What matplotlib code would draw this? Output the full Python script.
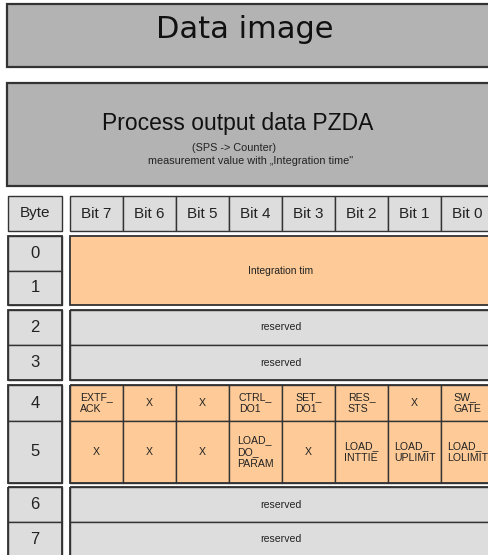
import matplotlib
matplotlib.use("Agg")
import matplotlib.pyplot as plt
from matplotlib.patches import Rectangle

# ---- data ----
title = "Data image"
subtitle_main = "Process output data PZDA"
subtitle_lines = ["(SPS -> Counter)", "measurement value with \u201eIntegration time\""]
header_byte = "Byte"
bit_labels = ["Bit 7", "Bit 6", "Bit 5", "Bit 4", "Bit 3", "Bit 2", "Bit 1", "Bit 0"]
byte_labels = ["0", "1", "2", "3", "4", "5", "6", "7"]
sec01_label = "Integration tim"
sec23_labels = ["reserved", "reserved"]
byte4_bits = ["EXTF_\nACK", "X", "X", "CTRL_\nDO1", "SET_\nDO1", "RES_\nSTS", "X", "SW_\nGATE"]
byte5_bits = ["X", "X", "X", "LOAD_\nDO_\nPARAM", "X", "LOAD_\nINTTIE", "LOAD_\nUPLIMIT", "LOAD_\nLOLIMIT"]
sec67_labels = ["reserved", "reserved"]

# ---- style ----
DARK = "#b3b3b3"
LIGHT = "#dddddd"
ORANGE = "#fecb98"
EDGE = "#333333"
TXT = "#222222"
FONT = ["Liberation Sans", "DejaVu Sans"]

fig = plt.figure(figsize=(4.89, 5.55), dpi=100)
ax = fig.add_axes([0, 0, 1, 1])
ax.set_xlim(0, 489)
ax.set_ylim(555, 0)
ax.axis("off")


def box(x0, y0, x1, y1, fc, lw=1.0):
    ax.add_patch(Rectangle((x0, y0), x1 - x0, y1 - y0, facecolor=fc,
                           edgecolor=EDGE, linewidth=lw, clip_on=True))


def txt(x, y, s, size, va="center", ha="center", family=FONT, color=TXT, **kw):
    ax.text(x, y, s, fontsize=size, va=va, ha=ha, color=color,
            family=family, multialignment="left", **kw)


# top boxes
box(7, 4, 500, 67, DARK, lw=1.6)
txt(245, 38, title, 22, va="baseline", family=["DejaVu Sans"], color="#111111")
box(7, 83, 500, 186, DARK, lw=1.6)
txt(238, 130, subtitle_main, 16.5, va="baseline", color="#111111")
txt(234, 151, subtitle_lines[0], 7.8, va="baseline")
txt(251, 163.5, subtitle_lines[1], 7.8, va="baseline")

# table geometry
bx0, bx1 = 8, 62
dx0 = 69.5
cw = 53.1
gap = 5
ncol = len(bit_labels)
dx1 = dx0 + cw * ncol
row_h = [34.5, 34.5, 35, 35, 36, 62, 35, 35]
sections = [[0, 1], [2, 3], [4, 5], [6, 7]]

# header
y = 196
hh = 35
box(bx0, y, bx1, y + hh, LIGHT)
txt((bx0 + bx1) / 2, y + hh / 2, header_byte, 11)
for i, lab in enumerate(bit_labels):
    x0 = dx0 + i * cw
    box(x0, y, x0 + cw, y + hh, LIGHT)
    txt(x0 + cw / 2, y + hh / 2, lab, 11)
y += hh + gap

row_top = {}
for sec in sections:
    top = y
    for b in sec:
        row_top[b] = y
        box(bx0, y, bx1, y + row_h[b], LIGHT)
        txt((bx0 + bx1) / 2, y + row_h[b] / 2, byte_labels[b], 12)
        y += row_h[b]
    bottom = y
    ax.add_patch(Rectangle((bx0, top), bx1 - bx0, bottom - top, fill=False,
                           edgecolor=EDGE, linewidth=1.3))
    if sec == [0, 1]:
        box(dx0, top, dx1, bottom, ORANGE, lw=1.3)
        txt((dx0 + dx1) / 2 - 1, (top + bottom) / 2, sec01_label, 7.4)
    elif sec in ([2, 3], [6, 7]):
        labels = sec23_labels if sec == [2, 3] else sec67_labels
        for b, lab in zip(sec, labels):
            box(dx0, row_top[b], dx1, row_top[b] + row_h[b], LIGHT)
            txt((dx0 + dx1) / 2 - 1, row_top[b] + row_h[b] / 2, lab, 7.6)
        ax.add_patch(Rectangle((dx0, top), dx1 - dx0, bottom - top, fill=False,
                               edgecolor=EDGE, linewidth=1.3))
    else:
        for b, labs in zip(sec, [byte4_bits, byte5_bits]):
            for i, lab in enumerate(labs):
                x0 = dx0 + i * cw
                box(x0, row_top[b], x0 + cw, row_top[b] + row_h[b], ORANGE)
                txt(x0 + cw / 2, row_top[b] + row_h[b] / 2, lab, 7.6,
                    linespacing=1.25)
        ax.add_patch(Rectangle((dx0, top), dx1 - dx0, bottom - top, fill=False,
                               edgecolor=EDGE, linewidth=1.3))
    y = bottom + gap - (1 if sec == [4, 5] else 0)

fig.savefig("out.png", dpi=100, facecolor="white")
